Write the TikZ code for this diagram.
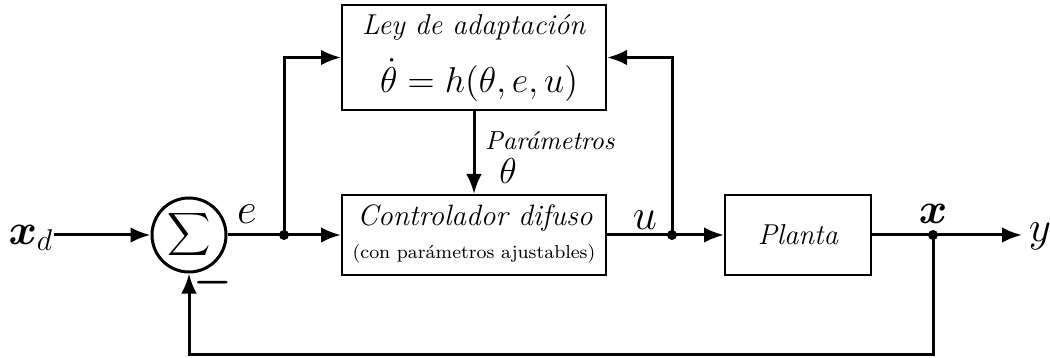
\documentclass[tikz,border=0pt]{standalone}
\usepackage{amsmath,bm}
\usepackage{fontspec}
\usetikzlibrary{arrows.meta}
\begin{document}
\begin{tikzpicture}[x=0.4pt,y=-0.4pt,
  blk/.style={draw,line width=0.8pt,inner sep=0pt},
  sig/.style={line width=1.2pt},
  arr/.style={sig,-{Latex[length=8pt,width=6.2pt]}},
  jdot/.style={circle,fill,inner sep=0pt,minimum size=4pt},
  lbl/.style={inner sep=0pt}]
\useasboundingbox (0,0) rectangle (1050,358);
% blocks
\node[blk,minimum width=105.6pt,minimum height=42pt] (ley) at (474,57.5) {};
\node[lbl] (leyt) at (474,27) {\fontsize{11.5}{13}\selectfont\textit{Ley de adaptación}};
\node[lbl] (leyeq) at (479,80) {\Large $\dot\theta = h(\theta,e,u)$};
\node[blk,minimum width=105.6pt,minimum height=32pt] (ctrl) at (474,235) {};
\node[lbl] (ctrlt) at (475,218) {\fontsize{11.8}{13}\selectfont\textit{Controlador difuso}};
\node[lbl] (ctrls) at (474,254) {\fontsize{7.5}{9}\selectfont (con parámetros ajustables)};
\node[blk,minimum width=58.4pt,minimum height=32pt] (plant) at (798,235) {\fontsize{11.5}{13}\selectfont\textit{Planta}};
\node[draw,circle,line width=1.2pt,minimum size=29.6pt,inner sep=0pt] (sum) at (189,235) {};
\node[lbl] (sigma) at (189,235) {\large$\displaystyle\sum$};
% coordinates
\coordinate (je) at (284,235);
\coordinate (ju) at (672,235);
\coordinate (jx) at (933,235);
\coordinate (yend) at (1022,235);
\coordinate (fb) at (933,354);
% labels
\node[lbl] (xd) at (31,238) {\LARGE$\bm{x}_{d}$};
\node[lbl] (elbl) at (247,214) {\LARGE$e$};
\node[lbl] (ulbl) at (645,220) {\LARGE$u$};
\node[lbl] (xlbl) at (933,214) {\LARGE$\bm{x}$};
\node[lbl] (ylbl) at (1040,236) {\LARGE$y$};
\node[lbl] (minus) at (213,283) {\LARGE$\bm{-}$};
\node[lbl] (par) at (550,141) {\fontsize{10.4}{12}\selectfont\textit{Parámetros}};
\node[lbl] (th) at (508,171) {\Large$\theta$};
% connectors
\draw[arr] (sum.west -| xd.east) -- (sum.west);
\draw[sig] (sum.east) -- (je);
\draw[arr] (je) -- (ctrl.west);
\draw[arr] (je) |- (ley.west);
\draw[arr] (ley.south) -- (ctrl.north);
\draw[sig] (ctrl.east) -- (ju);
\draw[arr] (ju) -- (plant.west);
\draw[arr] (ju) |- (ley.east);
\draw[sig] (plant.east) -- (jx);
\draw[arr] (jx) -- (yend);
\draw[arr] (jx) -- (fb) -| (sum.south);
\node[jdot] at (je) {};
\node[jdot] at (ju) {};
\node[jdot] at (jx) {};
\end{tikzpicture}
\end{document}
